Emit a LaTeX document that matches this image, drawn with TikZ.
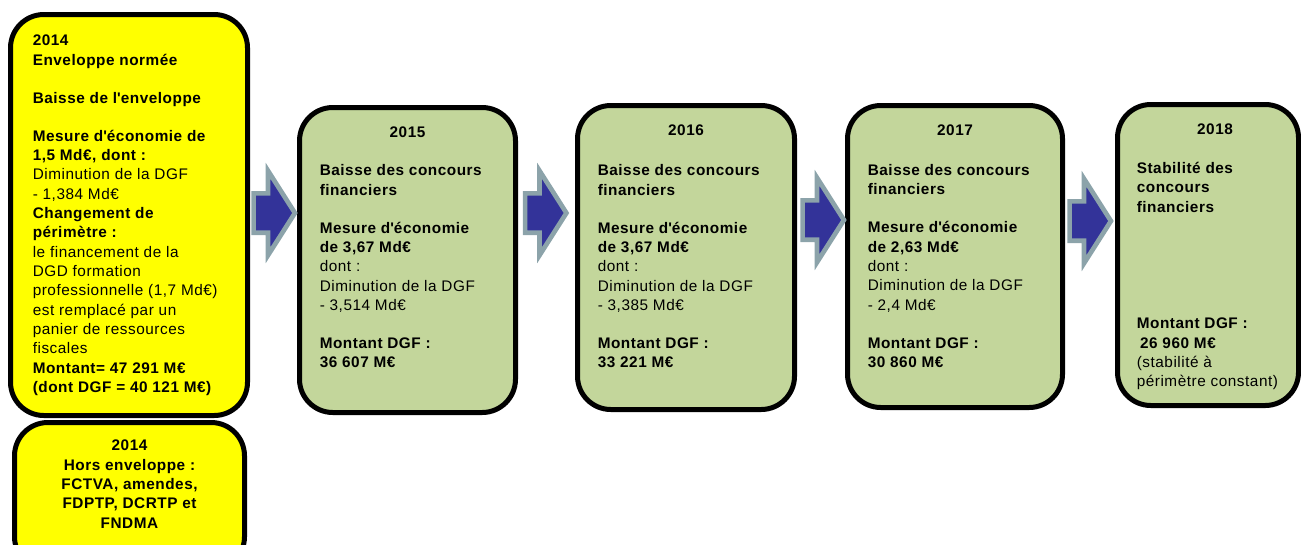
\documentclass[tikz,border=0pt]{standalone}
\usepackage{fontspec}
\setmainfont{Liberation Sans}[LetterSpace=3.5]
\usetikzlibrary{shapes.arrows,fit,calc}
\definecolor{envyel}{RGB}{255,255,0}
\definecolor{dgfgreen}{RGB}{195,214,155}
\definecolor{arrblue}{RGB}{51,51,153}
\definecolor{arrgrey}{RGB}{140,163,170}
\tikzset{yb/.style={draw=black,fill=envyel,line width=3.75pt,rounded corners=25pt,inner sep=0pt},
 gb/.style={draw=black,fill=dgfgreen,line width=3.75pt,rounded corners=25pt,inner sep=0pt},
 arr/.style={single arrow,draw=arrgrey,fill=arrblue,line width=3.5pt,single arrow head extend=16.9pt,
  single arrow tip angle=115,inner xsep=0pt,inner ysep=13pt,minimum height=31pt},
 txt/.style={align=left,inner sep=0pt,anchor=north west,font=\fontsize{11.5}{14.5}\selectfont},
 yr/.style={align=center,inner sep=0pt,anchor=north,font=\fontsize{11.5}{14.5}\selectfont\bfseries}}

\begin{document}
\begin{tikzpicture}[x=0.75pt,y=-0.75pt]
\useasboundingbox (0,0) rectangle (1301,544);
% 2014 boxes
\node[yb,fit={(10.5,14.5)(247.5,415.5)}](env){};
\node[yb,fit={(14.5,422.5)(244.5,570)}](hors){};
\node[txt] (tenv) at ($(env.north west)+(24.5,23)$){\textbf{2014}\\
\textbf{Enveloppe normée}\\[14pt]
\textbf{Baisse de l\textquotesingle enveloppe}\\[14pt]
\textbf{Mesure d\textquotesingle économie de}\\
\textbf{1,5 Md€, dont :}\\
Diminution de la DGF\\
- 1,384 Md€\\
\textbf{Changement de}\\
\textbf{périmètre :}\\
le financement de la\\
DGD formation\\
professionnelle (1,7 Md€)\\
est remplacé par un\\
panier de ressources\\
fiscales\\
\textbf{Montant= 47 291 M€}\\
\textbf{(dont DGF = 40 121 M€)}};
\node[yr] (thors) at ($(hors.north)+(0,20)$){2014\\Hors enveloppe :\\FCTVA, amendes,\\FDPTP, DCRTP et\\FNDMA};
% 2015 - 2018
\node[gb,fit={(299.5,107.5)(515.5,412.5)}](g15){};
\node[gb,fit={(577.5,105.5)(794.5,409.5)}](g16){};
\node[gb,fit={(847.5,105.5)(1062.5,407.5)}](g17){};
\node[gb,fit={(1117.5,104.5)(1298.5,405.5)}](g18){};
\node[yr] (y15) at ($(g15.north)+(0,22)$){2015};
\node[yr] (y16) at ($(g16.north)+(0,22)$){2016};
\node[yr] (y17) at ($(g17.north)+(0,22)$){2017};
\node[yr] (y18) at ($(g18.north)+(7,22)$){2018};
\node[txt] (t15) at ($(g15.north west)+(22.5,59.5)$){\textbf{Baisse des concours}\\
\textbf{financiers}\\[14pt]
\textbf{Mesure d\textquotesingle économie}\\
\textbf{de 3,67 Md€}\\
dont :\\
Diminution de la DGF\\
- 3,514 Md€\\[14pt]
\textbf{Montant DGF :}\\
\textbf{36 607 M€}};
\node[txt] (t16) at ($(g16.north west)+(22.5,61.5)$){\textbf{Baisse des concours}\\
\textbf{financiers}\\[14pt]
\textbf{Mesure d\textquotesingle économie}\\
\textbf{de 3,67 Md€}\\
dont :\\
Diminution de la DGF\\
- 3,385 Md€\\[14pt]
\textbf{Montant DGF :}\\
\textbf{33 221 M€}};
\node[txt] (t17) at ($(g17.north west)+(22.5,61)$){\textbf{Baisse des concours}\\
\textbf{financiers}\\[14pt]
\textbf{Mesure d\textquotesingle économie}\\
\textbf{de 2,63 Md€}\\
dont :\\
Diminution de la DGF\\
- 2,4 Md€\\[14pt]
\textbf{Montant DGF :}\\
\textbf{30 860 M€}};
\node[txt] (t18) at ($(g18.north west)+(21.5,60)$){\textbf{Stabilité des}\\
\textbf{concours}\\
\textbf{financiers}\\[73pt]
\textbf{Montant DGF :}\\
\hspace{2.5pt}\textbf{26 960 M€}\\
(stabilité à\\
périmètre constant)};
% block arrows
\node[arr] (a1) at (268,213){};
\node[arr] (a2) at (539.5,213){};
\node[arr] (a3) at (817,220){};
\node[arr] (a4) at (1084,221){};
\end{tikzpicture}
\end{document}
